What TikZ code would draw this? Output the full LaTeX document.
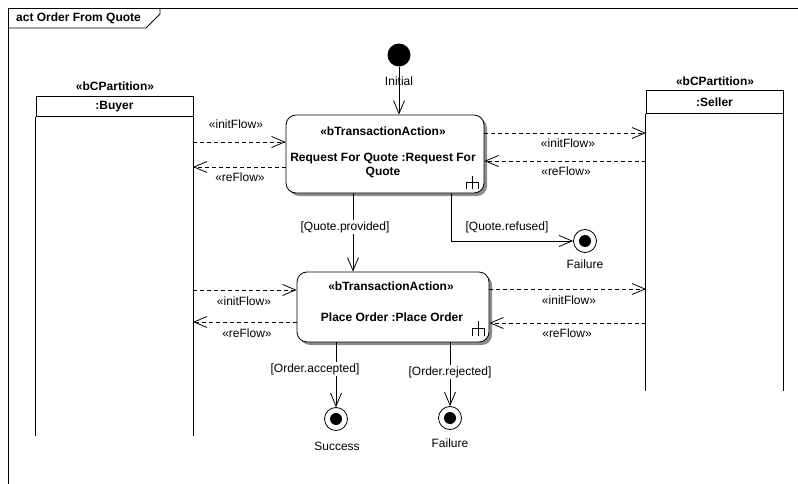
\documentclass[tikz,border=0pt]{standalone}
\usepackage{fontspec}
\setmainfont{Liberation Sans}
\usetikzlibrary{arrows.meta,shadows}
\begin{document}
\begin{tikzpicture}[x=1pt,y=-1pt,
  every node/.style={font=\fontsize{12}{14}\selectfont, inner sep=0pt},
  boldtext/.style={font=\fontsize{12}{14}\selectfont\bfseries},
  thin/.style={line width=0.8pt},
  tip/.style={-{Straight Barb[length=13pt,width=11pt,line width=0.8pt]}},
  ctrl/.style={thin, tip},
  objflow/.style={thin, tip, dash pattern=on 4pt off 3pt},
  lanehead/.style={draw, line width=1pt, boldtext},
  laneside/.style={line width=1pt},
  action/.style={draw, thin, fill=white, rounded corners=10pt,
    drop shadow={shadow xshift=3pt, shadow yshift=-3pt, fill=black!45, opacity=1}},
  guard/.style={fill=white, inner sep=1pt},
  initial/.style={circle, fill=black, minimum size=23pt},
  final/.style={circle, draw, thin, fill=white, minimum size=23pt,
    path picture={\fill[black] (path picture bounding box.center) circle (6pt);}},
  rake/.style={thin}
]
\useasboundingbox (0,0) rectangle (798,484);

% diagram frame and its name tab
\draw[thin] (8,484) -- (8,8) -- (798,8);
\draw[thin] (8,28) -- (146,28) -- (160,14) -- (160,8);
\node[boldtext, anchor=west] (title) at (16,18) {act Order From Quote};

% partitions
\node[boldtext] (buyerst) at (115,86) {«bCPartition»};
\node[lanehead, minimum width=157pt, minimum height=20pt] (buyer) at (114.5,107) {:Buyer};
\draw[laneside] (buyer.south west) -- ++(0,318);
\draw[laneside] (buyer.south east) -- ++(0,318);

\node[boldtext] (sellerst) at (715,81) {«bCPartition»};
\node[lanehead, minimum width=137pt, minimum height=23pt] (seller) at (714.5,102.5) {:Seller};
\draw[laneside] (seller.south west) -- ++(0,276);
\draw[laneside] (seller.south east) -- ++(0,276);

% actions
\node[action, minimum width=198pt, minimum height=78pt] (a1) at (385,154) {};
\node[boldtext] (a1st) at (383,131) {«bTransactionAction»};
\node[boldtext, align=center] (a1name) at (383,165) {Request For Quote :Request For\\Quote};
\draw[rake] (472,176) -- (472,189) (466,189) -- (466,182) -- (478,182) -- (478,189);

\node[action, minimum width=192pt, minimum height=70pt] (a2) at (393,307) {};
\node[boldtext] (a2st) at (391,286) {«bTransactionAction»};
\node[boldtext] (a2name) at (392,317) {Place Order :Place Order};
\draw[rake] (478,321) -- (478,336) (472,336) -- (472,328) -- (484,328) -- (484,336);

% initial and final nodes
\node[initial] (init) at (399,55) {};
\node (initlbl) at (399,81) {Initial};
\node[final] (fail1) at (585,241) {};
\node (fail1lbl) at (585,264) {Failure};
\node[final] (succ) at (336,419) {};
\node (succlbl) at (337,446) {Success};
\node[final] (fail2) at (450,418) {};
\node (fail2lbl) at (450,443) {Failure};

% anchor points on the partition edges
\coordinate (b1) at (193,142);
\coordinate (b2) at (193,167);
\coordinate (b3) at (193,290);
\coordinate (b4) at (193,322);
\coordinate (s1) at (646,133);
\coordinate (s2) at (646,161);
\coordinate (s3) at (646,289);
\coordinate (s4) at (646,323);
\coordinate (qp) at (353,230);
\coordinate (qr) at (451,241);

% control flows
\draw[ctrl] (init) -- (init |- a1.north);
\draw[ctrl] (qp |- a1.south) -- (qp |- a2.north);
\draw[ctrl] (qr |- a1.south) -- (qr) -- (fail1.west);
\draw[ctrl] (succ |- a2.south) -- (succ.north);
\draw[ctrl] (fail2 |- a2.south) -- (fail2.north);
\node[guard] (gqp) at (345,227) {[Quote.provided]};
\node (gqr) at (507,227) {[Quote.refused]};
\node[guard] (goa) at (315,369) {[Order.accepted]};
\node[guard] (gor) at (450,372) {[Order.rejected]};

% object flows between the partitions and the actions
\draw[objflow] (b1) -- (a1.west |- b1);
\draw[objflow] (a1.west |- b2) -- (b2);
\draw[objflow] (a1.east |- s1) -- (s1);
\draw[objflow] (s2) -- (a1.east |- s2);
\draw[objflow] (b3) -- (a2.west |- b3);
\draw[objflow] (a2.west |- b4) -- (b4);
\draw[objflow] (a2.east |- s3) -- (s3);
\draw[objflow] (s4) -- (a2.east |- s4);

\node (l1) at (236,124) {«initFlow»};
\node (l2) at (240,177) {«reFlow»};
\node (l3) at (568,143) {«initFlow»};
\node (l4) at (566,171) {«reFlow»};
\node (l5) at (244,301) {«initFlow»};
\node (l6) at (247,333) {«reFlow»};
\node (l7) at (569,300) {«initFlow»};
\node (l8) at (567,333) {«reFlow»};
\end{tikzpicture}
\end{document}
